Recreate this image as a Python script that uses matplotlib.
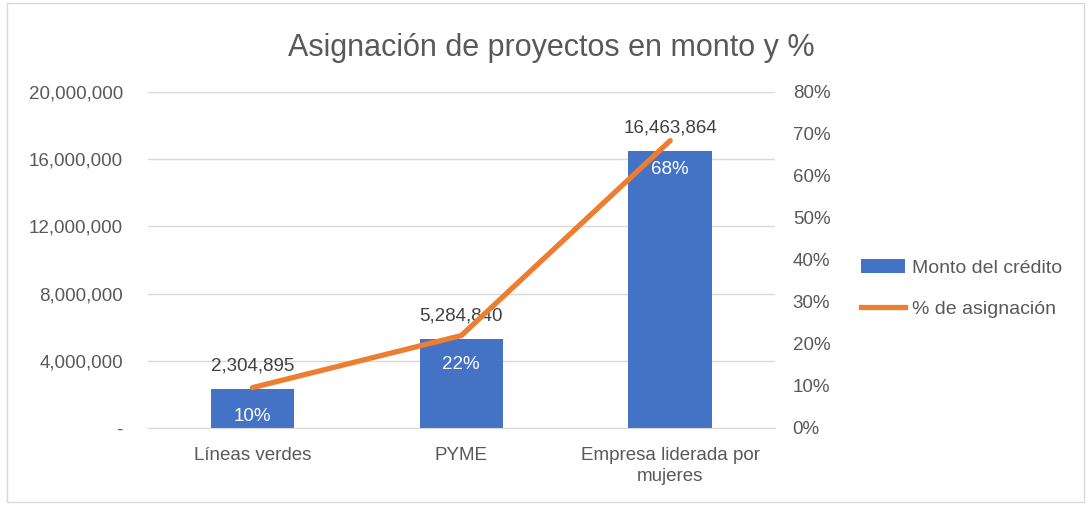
import matplotlib
matplotlib.use("Agg")
import matplotlib.pyplot as plt
from matplotlib.lines import Line2D
from matplotlib.patches import Patch, Rectangle
from matplotlib.ticker import FuncFormatter, MultipleLocator

categories = ["Líneas verdes", "PYME", "Empresa liderada por\nmujeres"]
monto = [2304895, 5284840, 16463864]
pct = [9.6, 22.0, 68.4]
pct_labels = ["10%", "22%", "68%"]

blue = "#4472C4"
orange = "#ED7D31"
txt = "#595959"

plt.rcParams["font.family"] = ["Liberation Sans", "DejaVu Sans"]

fig = plt.figure(figsize=(10.88, 5.05), dpi=100)
ax = fig.add_axes([0.136, 0.1525, 0.576, 0.6655])
ax2 = ax.twinx()

x = list(range(len(categories)))
ax.bar(x, monto, width=0.4, color=blue, zorder=2)
ax.set_xlim(-0.5, 2.5)
ax.set_ylim(0, 20000000)
ax.yaxis.set_major_locator(MultipleLocator(4000000))
ax.yaxis.set_major_formatter(FuncFormatter(lambda v, p: "-" if v == 0 else f"{v:,.0f}"))
ax.grid(axis="y", color="#D9D9D9", linewidth=1, zorder=0)
ax.set_axisbelow(True)
ax.set_xticks(x)
ax.set_xticklabels(categories, fontsize=13.5, color=txt, linespacing=1.3)
ax.tick_params(axis="y", labelsize=13.5, colors=txt, length=0, pad=18)
ax.tick_params(axis="x", length=0, pad=14)

for xi, v in zip(x, monto):
    ax.annotate(f"{v:,}", (xi, v), xytext=(0, 23), textcoords="offset pixels",
                ha="center", va="center", fontsize=13.5, color="#404040")

ax2.plot(x, pct, color=orange, linewidth=3.8, solid_capstyle="round", zorder=3)
ax2.set_ylim(0, 80)
ax2.yaxis.set_major_locator(MultipleLocator(10))
ax2.yaxis.set_major_formatter(FuncFormatter(lambda v, p: f"{v:.0f}%"))
ax2.tick_params(axis="y", labelsize=13.5, colors=txt, length=0, pad=13)

for xi, v, lab in zip(x, pct, pct_labels):
    ax2.annotate(lab, (xi, v), xytext=(0, -29), textcoords="offset pixels",
                 ha="center", va="center", fontsize=13.5, color="white")

for a in (ax, ax2):
    for s in a.spines.values():
        s.set_visible(False)

ax.spines["bottom"].set_visible(True)
ax.spines["bottom"].set_color("#D9D9D9")

fig.text(0.507, 0.905, "Asignación de proyectos en monto y %", ha="center", va="center",
         fontsize=22, color=txt)

handles = [Patch(facecolor=blue, label="Monto del crédito"),
           Line2D([0], [0], color=orange, linewidth=3.8, label="% de asignación")]
fig.legend(handles=handles, loc="center left", bbox_to_anchor=(0.775, 0.428), frameon=False,
           fontsize=14, labelcolor=txt, handlelength=2.3, handleheight=0.72,
           handletextpad=0.36, labelspacing=1.2)

fig.patches.append(Rectangle((0.0064, 0.006), 0.99, 0.988, transform=fig.transFigure,
                             fill=False, edgecolor="#D9D9D9", linewidth=1))

fig.savefig("out.png", dpi=100)
